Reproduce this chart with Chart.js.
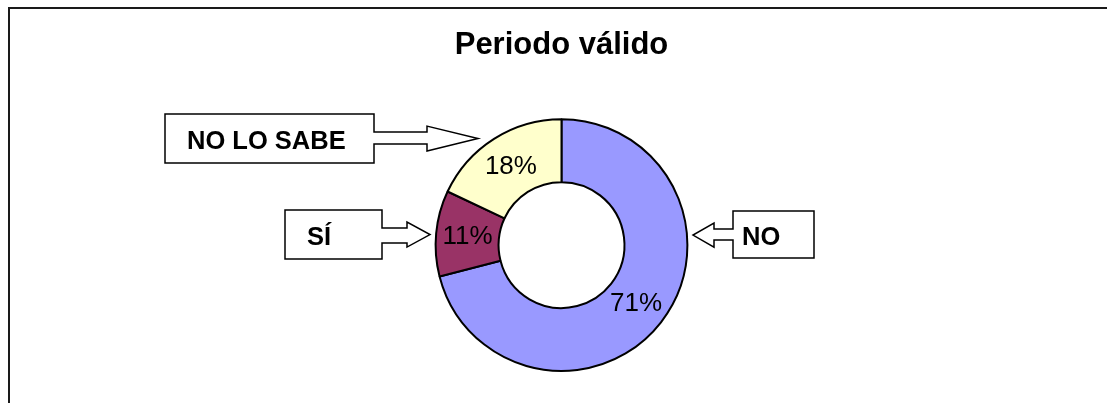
<!DOCTYPE html>
<html>
<head>
<meta charset="utf-8">
<script src="https://cdn.jsdelivr.net/npm/chart.js@4/dist/chart.umd.min.js"></script>
<style>
  html, body { margin: 0; padding: 0; background: #fff; overflow: hidden; }
  #wrap { width: 1107px; height: 403px; position: relative; }
</style>
</head>
<body>
<div id="wrap"><canvas id="chart"></canvas></div>
<script>
// data
const categories = ['NO', 'SÍ', 'NO LO SABE'];
const values = [71, 11, 18];
const sliceColors = ['#9999FF', '#993366', '#FFFFCC'];
const chartTitle = 'Periodo válido';

const FONT = '"Liberation Sans", Arial, sans-serif';

// callout boxes, offsets relative to the donut centre
// box: [x, y, w, h], shaft: [end x, top y, height], head: [tip x, top y, height]
const callouts = [
    { label: 'NO', box: [171.5, -34, 81, 47], textX: 180.5,
      shaft: [152.5, -16, 11], head: [131.5, -22, 24], dir: -1 },
    { label: 'SÍ', box: [-276.5, -35, 97, 49], textX: -254.5,
      shaft: [-154.5, -17, 15], head: [-131.5, -23, 25], dir: 1 },
    { label: 'NO LO SABE', box: [-396.5, -131, 209, 49], textX: -374.5,
      shaft: [-134.5, -113, 12], head: [-83.5, -119, 25], dir: 1 }
];

// frame lines round the chart
const framePlugin = {
    id: 'frame',
    beforeDraw(chart) {
        const ctx = chart.ctx;
        ctx.save();
        ctx.fillStyle = '#fff';
        ctx.fillRect(0, 0, chart.width, chart.height);
        ctx.fillStyle = '#1a1a1a';
        ctx.fillRect(8, 7, chart.width, 2);
        ctx.fillRect(8, 7, 2, chart.height);
        ctx.restore();
    }
};

// percent labels inside slices + callouts
const labelPlugin = {
    id: 'sliceLabels',
    afterDatasetsDraw(chart) {
        const ctx = chart.ctx;
        const meta = chart.getDatasetMeta(0);
        const total = values.reduce((a, b) => a + b, 0);
        ctx.save();
        ctx.font = '26px ' + FONT;
        ctx.fillStyle = '#000';
        ctx.textAlign = 'center';
        ctx.textBaseline = 'middle';
        meta.data.forEach((arc, i) => {
            const p = arc.tooltipPosition();
            ctx.fillText(Math.round(values[i] / total * 100) + '%', p.x, p.y + 1);
        });

        const cx = meta.data[0].x, cy = meta.data[0].y;
        callouts.forEach(c => {
            const [bx, by, bw, bh] = c.box;
            const x0 = cx + bx, y0 = cy + by;
            const edge = c.dir > 0 ? x0 + bw : x0;
            const far = c.dir > 0 ? x0 : x0 + bw;
            const sx = cx + c.shaft[0], st = cy + c.shaft[1], sh = c.shaft[2];
            const tipX = cx + c.head[0], ht = cy + c.head[1], hh = c.head[2];
            ctx.beginPath();
            ctx.moveTo(far, y0);
            ctx.lineTo(edge, y0);
            ctx.lineTo(edge, st);
            ctx.lineTo(sx, st);
            ctx.lineTo(sx, ht);
            ctx.lineTo(tipX, ht + hh / 2);
            ctx.lineTo(sx, ht + hh);
            ctx.lineTo(sx, st + sh);
            ctx.lineTo(edge, st + sh);
            ctx.lineTo(edge, y0 + bh);
            ctx.lineTo(far, y0 + bh);
            ctx.closePath();
            ctx.fillStyle = '#fff';
            ctx.fill();
            ctx.lineWidth = 1.5;
            ctx.strokeStyle = '#000';
            ctx.stroke();

            ctx.font = 'bold 25.5px ' + FONT;
            ctx.fillStyle = '#000';
            ctx.textAlign = 'left';
            ctx.textBaseline = 'middle';
            ctx.fillText(c.label, cx + c.textX, y0 + bh / 2 + 3);
        });
        ctx.restore();
    }
};

new Chart(document.getElementById('chart'), {
    type: 'doughnut',
    data: {
        labels: categories,
        datasets: [{
            data: values,
            backgroundColor: sliceColors,
            borderColor: '#000',
            borderWidth: 2,
            hoverOffset: 0
        }]
    },
    options: {
        responsive: true,
        maintainAspectRatio: false,
        animation: false,
        cutout: '50%',
        layout: { padding: { left: 16, top: 0, bottom: 31, right: 0 } },
        plugins: {
            legend: { display: false },
            tooltip: { enabled: false },
            title: {
                display: true,
                text: chartTitle,
                color: '#000',
                font: { family: FONT, size: 31, weight: 'bold' },
                padding: { top: 27, bottom: 54 }
            }
        }
    },
    plugins: [framePlugin, labelPlugin]
});
</script>
</body>
</html>
